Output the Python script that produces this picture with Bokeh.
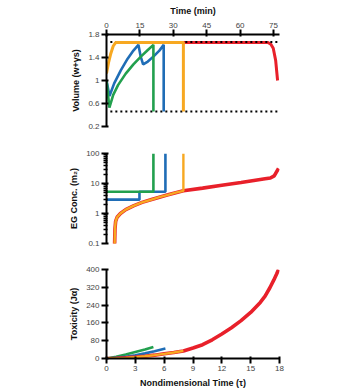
from bokeh.plotting import figure
from bokeh.models import Range1d, LinearAxis, FixedTicker, CustomJSTickFormatter
from bokeh.layouts import column
from bokeh.embed import file_html
from bokeh.resources import INLINE

# ---- time axes -------------------------------------------------------------
TAU_MAX = 18.0
MIN_PER_TAU = 4.317          # minutes per unit of nondimensional time
tau_ticks = [0, 3, 6, 9, 12, 15, 18]
min_ticks = [0, 15, 30, 45, 60, 75]

# ---- volume (w + gamma s) --------------------------------------------------
vol_ticks = [0.2, 0.6, 1, 1.4, 1.8]
vol_orange_t = [0, 0.2, 0.45, 0.7, 0.95, 8.0, 8.0]
vol_orange_v = [1.12, 1.3, 1.47, 1.6, 1.66, 1.66, 0.46]
vol_red_t = [8.0, 16.8, 17.1, 17.35, 17.6, 17.8]
vol_red_v = [1.66, 1.66, 1.63, 1.56, 1.35, 1.0]
vol_blue_t = [0, 0.31, 0.8, 1.5, 2.2, 2.8, 3.32, 3.55, 3.81, 4.3, 4.9, 5.5, 5.95, 5.95]
vol_blue_v = [1.0, 0.73, 0.95, 1.18, 1.38, 1.52, 1.62, 1.42, 1.28, 1.33, 1.42, 1.52, 1.62, 0.46]
vol_green_t = [0, 0.3, 0.7, 1.2, 2.0, 2.8, 3.6, 4.3, 4.88, 4.88]
vol_green_v = [1.0, 0.53, 0.75, 0.92, 1.12, 1.28, 1.42, 1.53, 1.62, 0.46]
vol_limits = [1.67, 0.46]
vol_limit_t = [0.4, 17.9]

# ---- EG concentration (m2) -------------------------------------------------
conc_major = [0.1, 1, 10, 100]
conc_minor = [0.2, 0.3, 0.4, 0.5, 0.6, 0.7, 0.8, 0.9,
              2, 3, 4, 5, 6, 7, 8, 9,
              20, 30, 40, 50, 60, 70, 80, 90]
conc_red_t = [0.84, 0.88, 0.95, 1.1, 1.45, 2.0, 2.8, 3.7, 4.6, 5.5, 6.4, 7.2, 8.0,
              10, 12, 14, 16.5, 17.05, 17.45, 17.9]
conc_red_m = [0.08, 0.3, 0.55, 0.75, 1.0, 1.35, 1.8, 2.35, 2.86, 3.5, 4.2, 4.95, 5.7,
              7.0, 8.7, 10.8, 14.3, 15.2, 18, 32]
conc_orange_t = [0.84, 0.88, 0.95, 1.1, 1.45, 2.0, 2.8, 3.7, 4.6, 5.5, 6.4, 7.2, 8.0, 8.0]
conc_orange_m = [0.08, 0.3, 0.55, 0.75, 1.0, 1.35, 1.8, 2.35, 2.86, 3.5, 4.2, 4.95, 5.7, 100]
conc_blue_t = [0, 3.43, 3.43, 6.13, 6.13]
conc_blue_m = [2.9, 2.9, 5.3, 5.3, 100]
conc_green_t = [0, 4.88, 4.88]
conc_green_m = [5.3, 5.3, 100]

# ---- toxicity (J_alpha) ----------------------------------------------------
tox_ticks = [0, 80, 160, 240, 320, 400]
tox_green_t = [0, 1, 2, 3, 4, 4.88]
tox_green_j = [0, 8, 18, 29, 40, 52]
tox_blue_t = [0, 1, 2, 3, 4, 5, 6.13]
tox_blue_j = [0, 3, 8, 15, 23, 33, 45]
tox_orange_t = [0, 1, 2, 3, 4, 5, 6, 7, 8.0]
tox_orange_j = [0, 1, 3, 6, 10, 15, 21, 27, 34]
tox_red_t = [0, 1, 2, 3, 4, 5, 6, 7, 8.0, 9, 10, 11, 12, 13, 14, 15, 16, 16.5, 17, 17.4, 17.7, 17.9]
tox_red_j = [0, 1, 3, 6, 10, 15, 21, 27, 34, 47, 62, 84, 110, 138, 170, 207, 252, 280, 318, 352, 380, 400]

RED = "#E8202A"
ORANGE = "#F7A821"
BLUE = "#1F6DB6"
GREEN = "#22A04E"
FONT = "Liberation Sans"
W = 355


def style_axis(ax, label):
    ax.axis_label = label
    ax.axis_label_text_font = FONT
    ax.axis_label_text_font_style = "bold"
    ax.axis_label_text_font_size = "9px"
    ax.axis_label_text_color = "#111111"
    ax.axis_label_standoff = 4
    ax.major_label_text_font = FONT
    ax.major_label_text_font_size = "8px"
    ax.major_label_text_color = "#444444"
    ax.major_label_standoff = 2
    ax.axis_line_color = "black"
    ax.axis_line_width = 2
    ax.major_tick_line_color = "black"
    ax.major_tick_line_width = 2
    ax.major_tick_out = 5
    ax.major_tick_in = 2
    ax.minor_tick_out = 0
    ax.minor_tick_in = 0


plain = CustomJSTickFormatter(code="return String(tick)")


def base(height, top, bottom, y_range, **kw):
    p = figure(width=W, height=height, output_backend="svg", toolbar_location=None,
               x_range=Range1d(0, TAU_MAX), y_range=y_range,
               min_border_left=106, min_border_right=76,
               min_border_top=top, min_border_bottom=bottom, **kw)
    p.outline_line_color = None
    p.xgrid.visible = False
    p.ygrid.visible = False
    p.background_fill_color = "white"
    p.border_fill_color = "white"
    return p


# ---- panel 1: volume -------------------------------------------------------
p1 = base(132, 34, 6, Range1d(0.2, 1.8), x_axis_location=None)
p1.extra_x_ranges = {"min": Range1d(0, TAU_MAX * MIN_PER_TAU)}
top_ax = LinearAxis(x_range_name="min", ticker=FixedTicker(ticks=min_ticks))
style_axis(top_ax, "Time (min)")
p1.add_layout(top_ax, "above")
style_axis(p1.yaxis[0], "Volume (w+γs)")
p1.yaxis[0].ticker = FixedTicker(ticks=vol_ticks)
p1.yaxis[0].formatter = plain

p1.line(vol_red_t, vol_red_v, color=RED, line_width=3)
for lvl in vol_limits:
    p1.line(vol_limit_t, [lvl, lvl], color="black", line_width=2, line_dash="2 3")
p1.line(vol_blue_t, vol_blue_v, color=BLUE, line_width=2.6)
p1.line(vol_green_t, vol_green_v, color=GREEN, line_width=2.6)
p1.line(vol_orange_t, vol_orange_v, color=ORANGE, line_width=3)

# ---- panel 2: EG concentration --------------------------------------------
p2 = base(118, 21, 7, Range1d(0.1, 100), x_axis_location=None, y_axis_type="log")
style_axis(p2.yaxis[0], "EG Conc. (m₂)")
p2.yaxis[0].ticker = FixedTicker(ticks=conc_major, minor_ticks=conc_minor)
p2.yaxis[0].formatter = plain
p2.yaxis[0].minor_tick_line_color = "black"
p2.yaxis[0].minor_tick_line_width = 1.5
p2.yaxis[0].minor_tick_out = 3
p2.yaxis[0].minor_tick_in = 1

p2.line(conc_blue_t, conc_blue_m, color=BLUE, line_width=2.6)
p2.line(conc_green_t, conc_green_m, color=GREEN, line_width=2.6)
p2.line(conc_red_t, conc_red_m, color=RED, line_width=3.6)
p2.line(conc_orange_t, conc_orange_m, color=ORANGE, line_width=2.4)

# ---- panel 3: toxicity -----------------------------------------------------
p3 = base(140, 19, 32, Range1d(0, 400))
style_axis(p3.yaxis[0], "Toxicity (Jα)")
p3.yaxis[0].ticker = FixedTicker(ticks=tox_ticks)
style_axis(p3.xaxis[0], "Nondimensional Time (τ)")
p3.xaxis[0].ticker = FixedTicker(ticks=tau_ticks)

p3.line(tox_green_t, tox_green_j, color=GREEN, line_width=2.6)
p3.line(tox_blue_t, tox_blue_j, color=BLUE, line_width=2.6)
p3.line(tox_red_t, tox_red_j, color=RED, line_width=3.6)
p3.line(tox_orange_t, tox_orange_j, color=ORANGE, line_width=2.4)

layout = column(p1, p2, p3, spacing=0)
open("out.html", "w").write(file_html(layout, INLINE))
